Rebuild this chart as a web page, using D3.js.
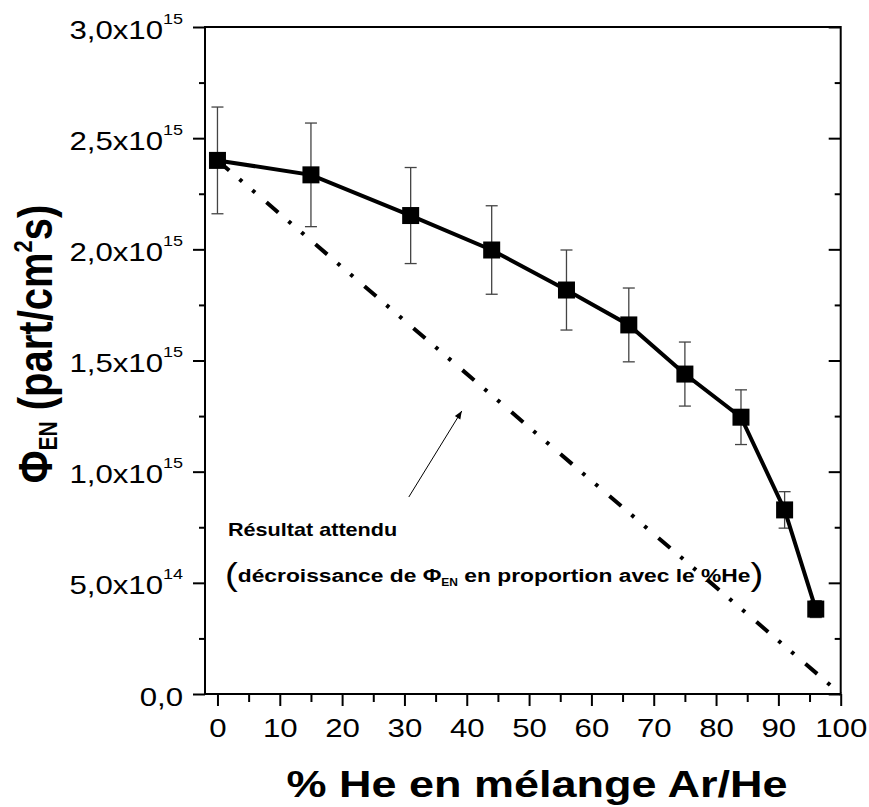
<!DOCTYPE html>
<html>
<head>
<meta charset="utf-8">
<script src="https://cdn.jsdelivr.net/npm/d3@7"></script>
<style>
  body { margin: 0; background: #fff; }
  svg { display: block; }
  text { font-family: Arial, "Liberation Sans", Helvetica, sans-serif; fill: #000; }
</style>
</head>
<body>
<svg id="chart" width="869" height="807"></svg>
<script>
// Measured flux of N atoms versus helium fraction in the Ar/He mixture
const heliumPct = [0, 15, 31, 44, 56, 66, 75, 84, 91, 96];
const fluxEN    = [2.400e15, 2.335e15, 2.152e15, 1.997e15, 1.817e15, 1.660e15, 1.439e15, 1.245e15, 0.828e15, 0.382e15];
const fluxErr   = [0.240e15, 0.233e15, 0.216e15, 0.199e15, 0.180e15, 0.166e15, 0.144e15, 0.123e15, 0.082e15, 0.038e15];

// Expected result: flux decreasing in proportion with %He
const expectedPct  = [0, 100];
const expectedFlux = [2.400e15, 0];

// Axis ticks and labels
const xTicks      = [0, 10, 20, 30, 40, 50, 60, 70, 80, 90, 100];
const xMinorTicks = [5, 15, 25, 35, 45, 55, 65, 75, 85, 95];
const yTicks      = [0, 0.5e15, 1.0e15, 1.5e15, 2.0e15, 2.5e15, 3.0e15];
const yMinorTicks = [0.25e15, 0.75e15, 1.25e15, 1.75e15, 2.25e15, 2.75e15];
const yTickMantissa = ["0,0", "5,0x10", "1,0x10", "1,5x10", "2,0x10", "2,5x10", "3,0x10"];
const yTickExponent = ["", "14", "15", "15", "15", "15", "15"];

const svg = d3.select("#chart");
const W = 869, H = 807;
const margin = { left: 205, right: 28.3, top: 27, bottom: 113 };
const SX = 1.2;   // horizontal stretch of all lettering

const x = d3.scaleLinear().domain([-2, 100]).range([margin.left, W - margin.right]);
const y = d3.scaleLinear().domain([0, 3.0e15]).range([H - margin.bottom, margin.top]);

function styleAxis(g) {
  g.select(".domain").remove();
  g.selectAll(".tick line").attr("stroke", "#000").attr("stroke-width", 2);
}

// ---- bottom axis: outward ticks ----
svg.append("g")
  .attr("transform", `translate(0,${y(0)})`)
  .call(d3.axisBottom(x).tickValues(xTicks).tickSize(12).tickPadding(13).tickFormat(d3.format("d")))
  .call(styleAxis)
  .call(g => g.selectAll(".tick text")
      .attr("font-size", 26)
      .attr("fill", "#000")
      .attr("transform", `scale(${SX},1)`));

svg.append("g")
  .attr("transform", `translate(0,${y(0)})`)
  .call(d3.axisBottom(x).tickValues(xMinorTicks).tickSize(8).tickFormat(""))
  .call(styleAxis);

// ---- left axis: outward ticks, labels with powers of ten ----
const leftAxis = svg.append("g")
  .attr("transform", `translate(${x(-2)},0)`)
  .call(d3.axisLeft(y).tickValues(yTicks).tickSize(12).tickFormat(""))
  .call(styleAxis);

leftAxis.selectAll(".tick").each(function (d, i) {
  const t = d3.select(this).append("text")
    .attr("transform", `scale(${SX},1)`)
    .attr("x", -22 / SX)
    .attr("y", 11)
    .attr("text-anchor", "end")
    .attr("font-size", 26);
  t.append("tspan").text(yTickMantissa[i]);
  if (yTickExponent[i]) {
    t.append("tspan").attr("dy", -15).attr("font-size", 15).text(yTickExponent[i]);
  }
});

svg.append("g")
  .attr("transform", `translate(${x(-2)},0)`)
  .call(d3.axisLeft(y).tickValues(yMinorTicks).tickSize(6).tickFormat(""))
  .call(styleAxis);

// ---- right axis: inward ticks, no labels ----
svg.append("g")
  .attr("transform", `translate(${x(100)},0)`)
  .call(d3.axisLeft(y).tickValues(yTicks).tickSize(12).tickFormat(""))
  .call(styleAxis);
svg.append("g")
  .attr("transform", `translate(${x(100)},0)`)
  .call(d3.axisLeft(y).tickValues(yMinorTicks).tickSize(6).tickFormat(""))
  .call(styleAxis);

// frame
svg.append("rect")
  .attr("x", x(-2)).attr("y", y(3.0e15))
  .attr("width", x(100) - x(-2)).attr("height", y(0) - y(3.0e15))
  .attr("fill", "none").attr("stroke", "#000").attr("stroke-width", 2);

// ---- expected proportional decrease (dash-dot-dot) ----
svg.append("path")
  .datum(expectedPct.map((p, i) => [p, expectedFlux[i]]))
  .attr("d", d3.line().x(d => x(d[0])).y(d => y(d[1])))
  .attr("fill", "none")
  .attr("stroke", "#000")
  .attr("stroke-width", 4)
  .attr("stroke-dasharray", "15.5 13.5 3.5 13.5 3.5 15");

// ---- error bars ----
const pts = heliumPct.map((p, i) => ({ p, v: fluxEN[i], e: fluxErr[i] }));
const eb = svg.append("g").attr("stroke", "#444").attr("stroke-width", 1.3);
pts.forEach(d => {
  const cx = x(d.p), y0 = y(d.v - d.e), y1 = y(d.v + d.e);
  eb.append("line").attr("x1", cx).attr("x2", cx).attr("y1", y0).attr("y2", y1);
  eb.append("line").attr("x1", cx - 6).attr("x2", cx + 6).attr("y1", y0).attr("y2", y0);
  eb.append("line").attr("x1", cx - 6).attr("x2", cx + 6).attr("y1", y1).attr("y2", y1);
});

// ---- measured series ----
svg.append("path")
  .datum(pts)
  .attr("d", d3.line().x(d => x(d.p)).y(d => y(d.v)))
  .attr("fill", "none")
  .attr("stroke", "#000")
  .attr("stroke-width", 4);

const S = 17;
svg.append("g").selectAll("rect")
  .data(pts).join("rect")
  .attr("x", d => x(d.p) - S / 2)
  .attr("y", d => y(d.v) - S / 2)
  .attr("width", S).attr("height", S)
  .attr("fill", "#000");

// ---- annotation ----
svg.append("defs").append("marker")
  .attr("id", "head").attr("viewBox", "0 0 10 10")
  .attr("refX", 10).attr("refY", 5)
  .attr("markerWidth", 10).attr("markerHeight", 8)
  .attr("markerUnits", "userSpaceOnUse")
  .attr("orient", "auto")
  .append("path").attr("d", "M0,1 L10,5 L0,9 Z").attr("fill", "#000");

svg.append("line")
  .attr("x1", x(30.7)).attr("y1", y(0.886e15))
  .attr("x2", x(39.2)).attr("y2", y(1.273e15))
  .attr("stroke", "#000").attr("stroke-width", 1)
  .attr("marker-end", "url(#head)");

function stretchedText(ax, ay) {
  return svg.append("text").attr("transform", `translate(${ax},${ay}) scale(${SX},1)`);
}

stretchedText(228, 536)
  .attr("font-size", 18).attr("font-weight", "bold")
  .text("Résultat attendu");

const note = stretchedText(225, 582)
  .attr("font-size", 19).attr("font-weight", "bold");
note.append("tspan").attr("font-size", 32).attr("font-weight", "normal").attr("dy", 3).text("(");
note.append("tspan").attr("dy", -3).text("décroissance de Φ");
note.append("tspan").attr("font-size", 10).attr("dy", 4).text("EN");
note.append("tspan").attr("dy", -4).text(" en proportion avec le %He");
note.append("tspan").attr("font-size", 32).attr("font-weight", "normal").attr("dy", 3).text(")");

// ---- axis titles ----
stretchedText(537, 797)
  .attr("text-anchor", "middle")
  .attr("font-size", 37.5).attr("font-weight", "bold")
  .text("% He en mélange Ar/He");

const yt = svg.append("text")
  .attr("transform", `translate(52,344) scale(${SX},1) rotate(-90)`)
  .attr("text-anchor", "middle")
  .attr("font-size", 40).attr("font-weight", "bold");
yt.append("tspan").text("Φ");
yt.append("tspan").attr("font-size", 21).attr("dy", 4).text("EN");
yt.append("tspan").attr("dy", -4).text(" (part/cm");
yt.append("tspan").attr("font-size", 22).attr("dy", -17).text("2");
yt.append("tspan").attr("dy", 17).text("s)");
</script>
</body>
</html>
